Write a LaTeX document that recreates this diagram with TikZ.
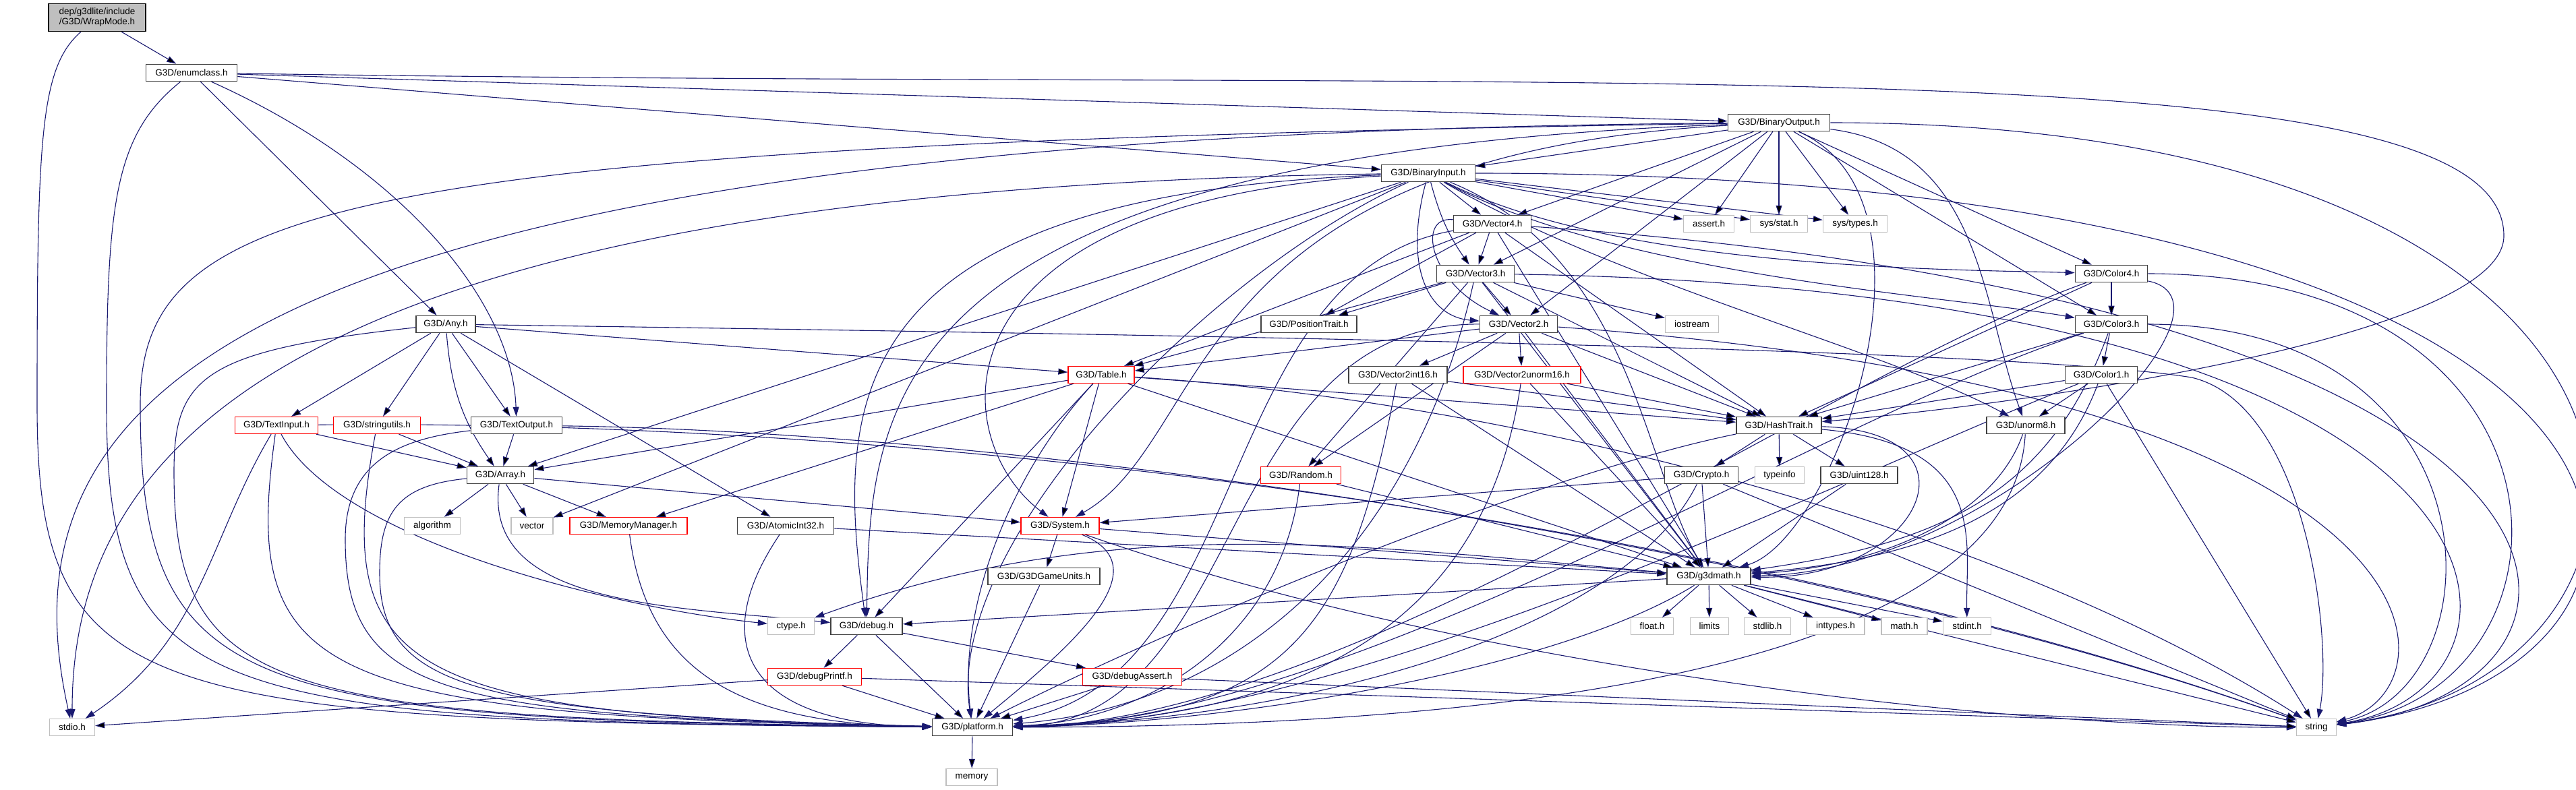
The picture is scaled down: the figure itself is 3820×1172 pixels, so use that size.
\documentclass[tikz,border=0pt]{standalone}
\usepackage{fontspec}
\setmainfont{Liberation Sans}
\usetikzlibrary{arrows.meta,backgrounds}
\definecolor{edgeblue}{HTML}{191970}
\definecolor{sysgray}{HTML}{BFBFBF}
\definecolor{boxline}{HTML}{404040}

\begin{document}
\begin{tikzpicture}[x=1pt,y=-1pt]

      \tikzset{hdr/.style={draw=boxline, line width=1.6pt, fill=white, inner sep=1pt, minimum height=25pt, font=\fontsize{13.5}{15}\selectfont},
               trunc/.style={hdr, draw=red, line width=1.3pt},
               syshdr/.style={hdr, draw=sysgray, line width=1.3pt},
               dep/.style={draw=edgeblue, line width=1.1pt, -{Triangle[length=14pt,width=9pt]}}}
      \useasboundingbox (0,0) rectangle (3820,1172);
%% Headers
      \node[hdr, fill=sysgray, draw=black, align=center, minimum width=144pt, minimum height=41pt] (wrap) at (144,26) {dep/g3dlite/include\\/G3D/WrapMode.h};
      \node[hdr, minimum width=135pt] (enumclass) at (284,108) {G3D/enumclass.h};
      \node[hdr, minimum width=151pt] (bo) at (2638,182) {G3D/BinaryOutput.h};
      \node[hdr, minimum width=139pt] (bi) at (2118,257) {G3D/BinaryInput.h};
      \node[hdr, minimum width=115pt] (v4) at (2213,332) {G3D/Vector4.h};
      \node[syshdr, minimum width=75pt] (assert) at (2534,332) {assert.h};
      \node[syshdr, minimum width=85pt] (sysstat) at (2638,332) {sys/stat.h};
      \node[syshdr, minimum width=95pt] (systypes) at (2751,332) {sys/types.h};
      \node[hdr, minimum width=115pt] (v3) at (2188,406) {G3D/Vector3.h};
      \node[hdr, minimum width=107pt] (color4) at (3131,406) {G3D/Color4.h};
      \node[hdr, minimum width=88pt] (any) at (661,481) {G3D/Any.h};
      \node[hdr, minimum width=142pt] (postrait) at (1941,481) {G3D/PositionTrait.h};
      \node[hdr, minimum width=115pt] (v2) at (2252,481) {G3D/Vector2.h};
      \node[syshdr, minimum width=79pt] (iostream) at (2509,481) {iostream};
      \node[hdr, minimum width=107pt] (color3) at (3131,481) {G3D/Color3.h};
      \node[trunc, minimum width=98pt] (table) at (1633,556) {G3D/Table.h};
      \node[hdr, minimum width=146pt] (v2i16) at (2073,556) {G3D/Vector2int16.h};
      \node[trunc, minimum width=174pt] (v2u16) at (2257,556) {G3D/Vector2unorm16.h};
      \node[hdr, minimum width=107pt] (color1) at (3116,556) {G3D/Color1.h};
      \node[trunc, minimum width=123pt] (textinput) at (410,631) {G3D/TextInput.h};
      \node[trunc, minimum width=129pt] (stringutils) at (559,631) {G3D/stringutils.h};
      \node[hdr, minimum width=135pt] (textoutput) at (766,631) {G3D/TextOutput.h};
      \node[hdr, minimum width=126pt] (hashtrait) at (2638,631) {G3D/HashTrait.h};
      \node[hdr, minimum width=116pt] (unorm8) at (3004,631) {G3D/unorm8.h};
      \node[hdr, minimum width=99pt] (array) at (742,705) {G3D/Array.h};
      \node[trunc, minimum width=119pt] (random) at (1929,705) {G3D/Random.h};
      \node[hdr, minimum width=109pt] (crypto) at (2523,705) {G3D/Crypto.h};
      \node[syshdr, minimum width=73pt] (typeinfo) at (2639,705) {typeinfo};
      \node[hdr, minimum width=114pt] (uint128) at (2757,705) {G3D/uint128.h};
      \node[syshdr, minimum width=83pt] (algorithm) at (641,780) {algorithm};
      \node[syshdr, minimum width=62pt] (vector) at (789,780) {vector};
      \node[trunc, minimum width=174pt] (memmgr) at (932,780) {G3D/MemoryManager.h};
      \node[hdr, minimum width=143pt] (atomic) at (1165,780) {G3D/AtomicInt32.h};
      \node[trunc, minimum width=116pt] (system) at (1572,780) {G3D/System.h};
      \node[hdr, minimum width=166pt] (gameunits) at (1548,855) {G3D/G3DGameUnits.h};
      \node[hdr, minimum width=124pt] (g3dmath) at (2534,855) {G3D/g3dmath.h};
      \node[syshdr, minimum width=69pt] (ctype) at (1173,929) {ctype.h};
      \node[hdr, minimum width=106pt] (debug) at (1285,929) {G3D/debug.h};
      \node[syshdr, minimum width=63pt] (floath) at (2450,929) {float.h};
      \node[syshdr, minimum width=57pt] (limits) at (2535,929) {limits};
      \node[syshdr, minimum width=69pt] (stdlib) at (2621,929) {stdlib.h};
      \node[syshdr, minimum width=86pt] (inttypes) at (2722,929) {inttypes.h};
      \node[syshdr, minimum width=68pt] (math) at (2824,929) {math.h};
      \node[syshdr, minimum width=71pt] (stdint) at (2917,929) {stdint.h};
      \node[trunc, minimum width=139pt] (debugprintf) at (1208,1004) {G3D/debugPrintf.h};
      \node[trunc, minimum width=147pt] (debugassert) at (1679,1004) {G3D/debugAssert.h};
      \node[hdr, minimum width=119pt] (platform) at (1442,1079) {G3D/platform.h};
      \node[syshdr, minimum width=67pt] (stdio) at (107,1079) {stdio.h};
      \node[syshdr, minimum width=59pt] (string) at (3435,1079) {string};
      \node[syshdr, minimum width=76pt] (memory) at (1441,1153) {memory};

%Edges
\begin{scope}[on background layer]
      % WrapMode.h, enumclass.h
      \path [dep] (wrap) edge (enumclass);
      \draw [dep] (wrap) .. controls (60,100) and (55,200) .. (55,600) .. controls (55,1040) and (200,1070) .. (platform);
      \path [dep] (enumclass) edge (bo) edge (bi) edge (any);
      \draw [dep] (enumclass) .. controls (600,250) and (760,450) .. (textoutput);
      \draw [dep] (enumclass) .. controls (170,200) and (158,300) .. (158,600) .. controls (158,1040) and (300,1070) .. (platform);
      \draw [dep] (enumclass) .. controls (2400,140) and (3713,60) .. (3713,350) .. controls (3713,500) and (3000,600) .. (hashtrait);
      % BinaryOutput.h
      \path [dep] (bo) edge (bi) edge (v4) edge (assert) edge (sysstat) edge (systypes) edge (color4) edge (color3) edge (v3) edge (v2);
      \draw [dep] (bo) .. controls (2938,220) and (2938,450) .. (unorm8);
      \draw [dep] (bo) .. controls (2900,300) and (2720,800) .. (g3dmath);
      \draw [dep] (bo) .. controls (1300,230) and (1290,600) .. (debug);
      \draw [dep] (bo) .. controls (1750,230) and (1800,650) .. (system);
      \draw [dep] (bo) .. controls (500,215) and (208,300) .. (208,600) .. controls (208,1030) and (350,1068) .. (platform);
      \draw [dep] (bo) .. controls (300,200) and (0,600) .. (stdio);
      \draw [dep] (bo) .. controls (4050,182) and (4050,1000) .. (string);
      % BinaryInput.h
      \path [dep] (bi) edge (v4) edge [bend right=10] (v3) edge (assert) edge (sysstat) edge (systypes) edge (array) edge (vector);
      \draw [dep] (bi) .. controls (2080,400) and (2120,470) .. (v2);
      \draw [dep] (bi) .. controls (2400,400) and (2900,400) .. (color4);
      \draw [dep] (bi) .. controls (2400,410) and (2900,440) .. (color3);
      \draw [dep] (bi) .. controls (2400,420) and (2800,520) .. (unorm8);
      \draw [dep] (bi) .. controls (2420,380) and (2440,700) .. (g3dmath);
      \draw [dep] (bi) .. controls (1240,290) and (1240,600) .. (debug);
      \draw [dep] (bi) .. controls (1375,300) and (1400,650) .. (system);
      \draw [dep] (bi) .. controls (1800,400) and (1400,800) .. (platform);
      \draw [dep] (bi) .. controls (450,280) and (107,650) .. (stdio);
      \draw [dep] (bi) .. controls (4080,257) and (4080,1000) .. (string);
      % Any.h and the text headers
      \path [dep] (any) edge (table) edge [bend right=15] (array) edge (atomic) edge (stringutils) edge (textinput) edge (textoutput);
      \draw [dep] (any) .. controls (300,520) and (258,560) .. (258,700) .. controls (258,1030) and (400,1066) .. (platform);
      \draw [dep] (any) .. controls (2000,500) and (3000,520) .. (3250,560) .. controls (3420,600) and (3460,950) .. (string);
      \path [dep] (textinput) edge (array);
      \draw [dep] (textinput) .. controls (500,800) and (900,900) .. (ctype);
      \draw [dep] (textinput) .. controls (1400,620) and (2600,780) .. (string);
      \draw [dep] (textinput) .. controls (309,800) and (300,950) .. (stdio);
      \draw [dep] (textinput) .. controls (359,1000) and (450,1062) .. (platform);
      \path [dep] (stringutils) edge (array);
      \draw [dep] (stringutils) .. controls (490,1000) and (600,1062) .. (platform);
      \path [dep] (textoutput) edge (array);
      \draw [dep] (textoutput) .. controls (1500,640) and (2650,800) .. (string);
      \draw [dep] (textoutput) .. controls (600,650) and (512,680) .. (512,800) .. controls (512,1030) and (650,1062) .. (platform);
      % Array.h, Table.h, System.h
      \path [dep] (array) edge (algorithm) edge (vector) edge (memmgr) edge (system);
      \draw [dep] (array) .. controls (715,900) and (1000,900) .. (debug);
      \draw [dep] (array) .. controls (590,720) and (563,760) .. (563,850) .. controls (563,1020) and (700,1060) .. (platform);
      \draw [dep] (memmgr) .. controls (960,1000) and (1100,1075) .. (platform);
      \path [dep] (atomic) edge (g3dmath);
      \draw [dep] (atomic) .. controls (1050,950) and (1100,1075) .. (platform);
      \path [dep] (table) edge (hashtrait) edge (array) edge (memmgr) edge (system) edge (debug) edge (g3dmath);
      \draw [dep] (table) .. controls (2300,600) and (3000,800) .. (string);
      \draw [dep] (table) .. controls (1500,700) and (1420,900) .. (platform);
      \path [dep] (system) edge (gameunits) edge (g3dmath);
      \draw [dep] (system) .. controls (2200,1000) and (3000,1080) .. (string);
      \draw [dep] (system) .. controls (1720,840) and (1600,950) .. (platform);
      \path [dep] (gameunits) edge (platform);
      \path [dep] (debug) edge (platform) edge (debugprintf) edge (debugassert);
      \path [dep] (debugprintf) edge (platform) edge (stdio) edge (string);
      \path [dep] (debugassert) edge (platform) edge (string);
      % vectors
      \path [dep] (v4) edge (v3) edge (postrait) edge (table) edge (hashtrait) edge (g3dmath);
      \draw [dep] (v4) .. controls (2100,320) and (2120,420) .. (v2);
      \draw [dep] (v4) .. controls (1800,405) and (1857,1006) .. (platform);
      \draw [dep] (v4) .. controls (3930,450) and (3930,1020) .. (string);
      \path [dep] (v3) edge (postrait) edge (v2) edge (iostream) edge (hashtrait) edge (random) edge (table) edge (g3dmath);
      \draw [dep] (v3) .. controls (2100,800) and (1850,1045) .. (platform);
      \draw [dep] (v3) .. controls (3800,430) and (3800,1020) .. (string);
      \path [dep] (v2) edge (v2i16) edge (v2u16) edge (hashtrait) edge (table) edge (random) edge (g3dmath);
      \draw [dep] (v2) .. controls (1800,480) and (1850,1070) .. (platform);
      \draw [dep] (v2) .. controls (3650,580) and (3650,1020) .. (string);
      \path [dep] (v2i16) edge (hashtrait) edge (g3dmath);
      \draw [dep] (v2i16) .. controls (2000,950) and (1900,1066) .. (platform);
      \path [dep] (v2u16) edge (hashtrait) edge (g3dmath);
      \draw [dep] (v2u16) .. controls (2200,950) and (1900,1068) .. (platform);
      \path [dep] (random) edge (g3dmath);
      \draw [dep] (random) .. controls (1900,950) and (1700,1070) .. (platform);
      % HashTrait.h, Crypto.h, colors
      \path [dep] (hashtrait) edge (crypto) edge (typeinfo) edge (uint128);
      \draw [dep] (hashtrait) .. controls (2300,700) and (1800,900) .. (platform);
      \draw [dep] (hashtrait) .. controls (2950,640) and (2850,860) .. (g3dmath);
      \draw [dep] (hashtrait) .. controls (2950,660) and (2915,800) .. (stdint);
      \path [dep] (crypto) edge (g3dmath) edge (system) edge (string);
      \draw [dep] (crypto) .. controls (2400,950) and (1900,1070) .. (platform);
      \path [dep] (uint128) edge (g3dmath);
      \path [dep] (color4) edge (color3) edge (hashtrait);
      \draw [dep] (color4) .. controls (3350,450) and (2950,850) .. (g3dmath);
      \draw [dep] (color4) .. controls (3845,406) and (3845,1020) .. (string);
      \draw [dep] (color4) .. controls (2700,560) and (2000,1072) .. (platform);
      \path [dep] (color3) edge (color1) edge (hashtrait);
      \draw [dep] (color3) .. controls (3037,740) and (2868,807) .. (g3dmath);
      \draw [dep] (color3) .. controls (3711,481) and (3711,1020) .. (string);
      \draw [dep] (color3) .. controls (2700,620) and (2000,1074) .. (platform);
      \path [dep] (color1) edge (unorm8) edge (hashtrait) edge (string);
      \draw [dep] (color1) .. controls (3040,760) and (2850,830) .. (g3dmath);
      \draw [dep] (color1) .. controls (2750,700) and (2000,1076) .. (platform);
      \draw [dep] (unorm8) .. controls (2960,760) and (2800,840) .. (g3dmath);
      \draw [dep] (unorm8) .. controls (2980,1060) and (1900,1078) .. (platform);
      % g3dmath.h, platform.h
      \path [dep] (g3dmath) edge (floath) edge (limits) edge (stdlib) edge (inttypes) edge (math) edge (stdint) edge (debug) edge (string);
      \draw [dep] (g3dmath) .. controls (2027,811) and (1651,755) .. (ctype);
      \draw [dep] (g3dmath) .. controls (2300,1000) and (1800,1075) .. (platform);
      \path [dep] (platform) edge (memory);
\end{scope}

\end{tikzpicture}
\end{document}
